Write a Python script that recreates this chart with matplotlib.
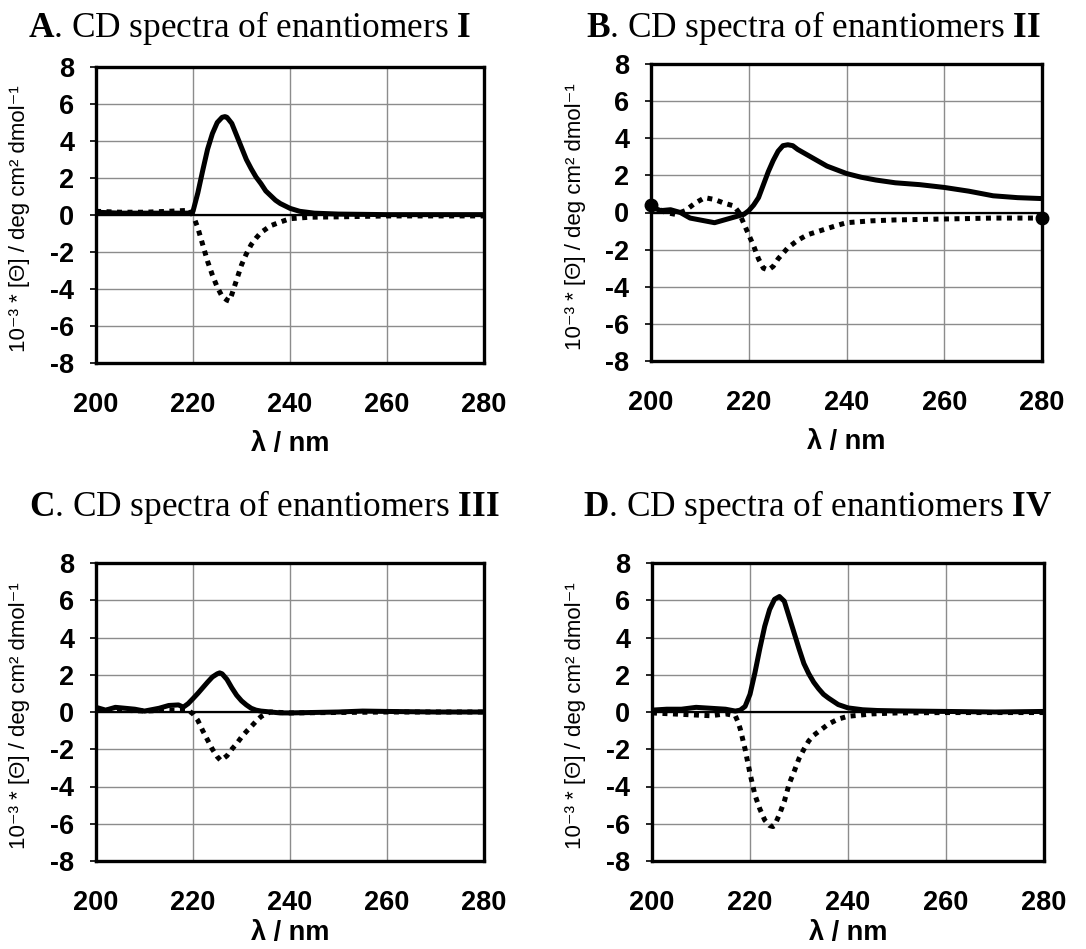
import numpy as np
import matplotlib
matplotlib.use("Agg")
import matplotlib.pyplot as plt

plt.rcParams['mathtext.fontset'] = 'custom'
plt.rcParams['mathtext.rm'] = 'Liberation Serif'
plt.rcParams['mathtext.bf'] = 'Liberation Serif:bold'
plt.rcParams['axes.unicode_minus'] = False

# ---------------- data ----------------
titles_letter = ["A", "B", "C", "D"]
titles_roman = ["I", "II", "III", "IV"]
x_ticks = [200, 220, 240, 260, 280]
y_ticks = [-8, -6, -4, -2, 0, 2, 4, 6, 8]

# Panel A
a_solid_x = [200, 205, 210, 215, 219, 220, 221, 222, 223, 224, 225, 226, 226.6, 227, 228, 229, 230, 231, 232, 233, 234, 235, 236, 237, 238, 240, 242, 245, 250, 260, 270, 280]
a_solid_y = [0.15, 0.1, 0.1, 0.1, 0.1, 0.2, 1.2, 2.4, 3.55, 4.4, 5.0, 5.28, 5.32, 5.28, 4.95, 4.3, 3.65, 3.0, 2.5, 2.05, 1.7, 1.3, 1.05, 0.8, 0.62, 0.36, 0.2, 0.1, 0.05, 0.02, 0.02, 0.02]
a_dot_x = [200, 205, 210, 215, 219, 220, 221, 222, 223, 224, 225, 226, 227, 227.5, 228, 229, 230, 231, 232, 233, 234, 236, 238, 240, 244, 250, 260, 280]
a_dot_y = [0.2, 0.15, 0.15, 0.2, 0.25, 0.0, -0.7, -1.6, -2.5, -3.25, -3.9, -4.4, -4.6, -4.65, -4.3, -3.5, -2.7, -2.1, -1.6, -1.25, -0.95, -0.58, -0.38, -0.2, -0.12, -0.1, -0.05, -0.05]

# Panel B
b_solid_x = [200, 202, 204, 206, 208, 210, 212, 213, 215, 217, 219, 220, 221, 222, 223, 224, 225, 226, 227, 228, 229, 230, 232, 234, 236, 238, 240, 243, 246, 250, 255, 260, 265, 270, 275, 280]
b_solid_y = [0.3, 0.1, 0.15, 0.0, -0.3, -0.4, -0.5, -0.55, -0.4, -0.25, -0.1, 0.1, 0.4, 0.8, 1.5, 2.2, 2.8, 3.3, 3.6, 3.65, 3.6, 3.4, 3.1, 2.8, 2.5, 2.3, 2.1, 1.9, 1.75, 1.6, 1.5, 1.35, 1.15, 0.9, 0.8, 0.75]
b_dot_x = [200, 203, 205, 207, 209, 211, 213, 215, 217, 218, 219, 220, 221, 222, 223, 224, 225, 226, 227, 228, 230, 232, 235, 238, 240, 245, 250, 260, 270, 280]
b_dot_y = [0.4, 0.0, -0.1, 0.1, 0.5, 0.8, 0.7, 0.5, 0.35, 0.0, -0.6, -1.2, -1.8, -2.5, -3.0, -3.1, -2.9, -2.5, -2.2, -1.9, -1.5, -1.2, -0.95, -0.7, -0.55, -0.45, -0.4, -0.35, -0.3, -0.3]

# Panel C
c_solid_x = [200, 202, 204, 206, 208, 210, 212, 213, 215, 217, 218, 219, 220, 221, 222, 223, 224, 225, 225.5, 226, 227, 228, 229, 230, 231, 232, 233, 234, 236, 238, 240, 250, 255, 260, 270, 280]
c_solid_y = [0.25, 0.1, 0.25, 0.2, 0.15, 0.05, 0.15, 0.2, 0.35, 0.38, 0.26, 0.45, 0.72, 1.0, 1.3, 1.6, 1.88, 2.05, 2.1, 2.05, 1.75, 1.3, 0.9, 0.6, 0.38, 0.2, 0.1, 0.05, 0.0, -0.05, -0.05, 0.0, 0.05, 0.03, 0.0, 0.0]
c_dot_x = [200, 205, 210, 215, 219, 220, 221, 222, 223, 224, 225, 225.7, 226, 227, 228, 229, 230, 231, 232, 233, 234, 235, 236, 240, 260, 280]
c_dot_y = [0.1, 0.1, 0.05, 0.1, 0.1, -0.1, -0.45, -1.0, -1.5, -2.0, -2.4, -2.6, -2.55, -2.35, -2.0, -1.7, -1.35, -1.05, -0.78, -0.5, -0.25, -0.1, 0.0, -0.05, 0.0, 0.0]

# Panel D
d_solid_x = [200, 203, 206, 209, 212, 215, 217, 218, 219, 220, 221, 222, 223, 224, 225, 226, 227, 228, 229, 230, 231, 232, 233, 234, 235, 236, 238, 240, 243, 246, 250, 260, 270, 280]
d_solid_y = [0.1, 0.15, 0.15, 0.25, 0.2, 0.15, 0.05, 0.1, 0.3, 0.95, 2.1, 3.4, 4.6, 5.5, 6.05, 6.2, 5.95, 5.1, 4.25, 3.4, 2.6, 2.05, 1.6, 1.25, 0.95, 0.75, 0.4, 0.22, 0.12, 0.08, 0.06, 0.03, 0.0, 0.03]
d_dot_x = [200, 204, 208, 212, 215, 217, 217.5, 218, 219, 220, 221, 222, 223, 224, 224.7, 225, 226, 227, 228, 229, 230, 231, 232, 233, 234, 236, 238, 240, 245, 250, 260, 280]
d_dot_y = [-0.05, -0.1, -0.15, -0.2, -0.1, -0.2, -0.5, -0.9, -2.0, -3.3, -4.45, -5.2, -5.8, -6.1, -6.15, -6.1, -5.5, -4.8, -3.85, -3.2, -2.5, -2.0, -1.55, -1.25, -1.05, -0.65, -0.38, -0.23, -0.1, -0.05, -0.03, -0.03]

panels = [
    (a_solid_x, a_solid_y, a_dot_x, a_dot_y),
    (b_solid_x, b_solid_y, b_dot_x, b_dot_y),
    (c_solid_x, c_solid_y, c_dot_x, c_dot_y),
    (d_solid_x, d_solid_y, d_dot_x, d_dot_y),
]

# ---------------- layout ----------------
W, H = 1086, 949
fig = plt.figure(figsize=(W / 100, H / 100), dpi=100)

# axes boxes in pixels (left, top, right, bottom)
boxes = [(96, 67, 484, 363), (651, 64, 1042, 361), (96, 563, 484, 861), (652, 563, 1044, 861)]
title_pos = [(250, 28), (814, 28), (264, 507), (818, 507)]
xlabel_off = [81, 81, 72, 72]

sans = ['Liberation Sans', 'DejaVu Sans']
ylabel_txt = "10\u207b\u00b3 * [\u0398] / deg cm\u00b2 dmol\u207b\u00b9"

for i, (box, data) in enumerate(zip(boxes, panels)):
    l, t, r, b = box
    ax = fig.add_axes([l / W, 1 - b / H, (r - l) / W, (b - t) / H])
    sx, sy, dx, dy = data
    ax.set_xlim(200, 280)
    ax.set_ylim(-8, 8)
    ax.set_xticks(x_ticks)
    ax.set_yticks(y_ticks)
    ax.grid(True, color='#8c8c8c', linewidth=1.0)
    ax.set_axisbelow(True)
    ax.axhline(0, color='black', linewidth=1.6, zorder=2)
    ax.plot(sx, sy, color='black', linewidth=3.6, solid_capstyle='round',
            solid_joinstyle='round', zorder=4)
    if i == 1:
        ax.plot(dx, dy, color='black', linewidth=3.6, linestyle=(0, (1, 1.1)),
                dash_capstyle='butt', zorder=3, marker='o', markersize=9,
                markevery=[0, len(dx) - 1], clip_on=False)
    else:
        ax.plot(dx, dy, color='black', linewidth=3.6, linestyle=(0, (1, 1.1)),
                dash_capstyle='butt', zorder=3)
    for s in ax.spines.values():
        s.set_linewidth(2.4)
        s.set_color('black')
    ax.tick_params(axis='y', direction='out', length=4.5, width=1.2, pad=11)
    ax.tick_params(axis='x', length=0, pad=21)
    for lab in ax.get_xticklabels() + ax.get_yticklabels():
        lab.set_fontfamily(sans)
        lab.set_fontweight('bold')
        lab.set_fontsize(19.5)
    ax.text(0.5, -xlabel_off[i] / (b - t), "\u03bb / nm", transform=ax.transAxes, ha='center', va='center',
            fontsize=19.5, fontweight='bold', family=sans)
    fig.text((l - 76) / W, 1 - ((t + b) / 2 + 4) / H, ylabel_txt, rotation=90,
             ha='center', va='center', fontsize=16, family=sans)
    tx, ty = title_pos[i]
    fig.text(tx / W, 1 - ty / H,
             r"$\mathbf{%s}$. CD spectra of enantiomers $\mathbf{%s}$" % (titles_letter[i], titles_roman[i]),
             ha='center', va='center', fontsize=25.4, family='Liberation Serif')

fig.savefig("out.png", dpi=100)
